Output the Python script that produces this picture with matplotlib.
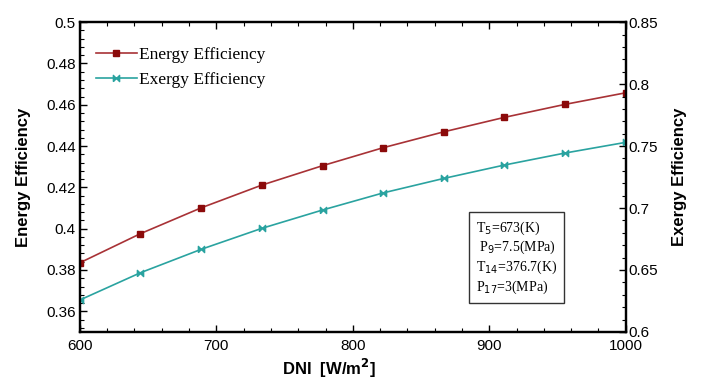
import matplotlib.pyplot as plt
from matplotlib.ticker import MultipleLocator, AutoMinorLocator, FuncFormatter

# DNI values (W/m2), 10 points
dni = [600, 644.4, 688.9, 733.3, 777.8, 822.2, 866.7, 911.1, 955.6, 1000]
energy_eff = [0.3835, 0.3976, 0.4101, 0.4211, 0.4305, 0.4392, 0.4469, 0.4539, 0.4602, 0.4658]
exergy_eff = [0.6258, 0.6478, 0.6667, 0.6836, 0.6984, 0.7122, 0.7239, 0.7347, 0.7444, 0.7530]

params = ["T$_5$=673(K)", " P$_9$=7.5(MPa)", "T$_{14}$=376.7(K)", "P$_{17}$=3(MPa)"]

red_line = '#a83236'
red_mark = '#8b0a0a'
teal = '#2aa3a0'
bowtie = [(-1, -1), (-1, 1), (0, 0), (1, 1), (1, -1), (0, 0), (-1, -1)]

fig = plt.figure(figsize=(7.07, 3.82), dpi=100)
ax = fig.add_axes([0.113, 0.131, 0.772, 0.811])
ax2 = ax.twinx()

l1, = ax.plot(dni, energy_eff, color=red_line, lw=1.2, marker='s', ms=4.5,
              mfc=red_mark, mec=red_mark, label='Energy Efficiency')
l2, = ax2.plot(dni, exergy_eff, color=teal, lw=1.2, marker=bowtie, ms=4.5,
               mfc=teal, mec=teal, label='Exergy Efficiency')

ax.set_xlim(600, 1000)
ax.set_ylim(0.35, 0.5)
ax2.set_ylim(0.6, 0.85)

fmt = FuncFormatter(lambda v, p: '%g' % round(v, 4))
ax.xaxis.set_major_locator(MultipleLocator(100))
ax.xaxis.set_minor_locator(AutoMinorLocator(5))
ax.yaxis.set_major_locator(MultipleLocator(0.02))
ax.yaxis.set_minor_locator(AutoMinorLocator(5))
ax.yaxis.set_major_formatter(fmt)
ax2.yaxis.set_major_locator(MultipleLocator(0.05))
ax2.yaxis.set_minor_locator(AutoMinorLocator(5))
ax2.yaxis.set_major_formatter(fmt)
ax.set_ylim(0.35, 0.5)

tickfont = 'Liberation Sans'
ax.tick_params(axis='x', which='both', direction='in', top=True, labelsize=11, pad=5)
ax.tick_params(axis='y', which='both', direction='in', labelsize=11, pad=3)
ax2.tick_params(axis='y', which='both', direction='in', labelsize=11, pad=2)
ax.tick_params(which='major', length=5, width=1)
ax.tick_params(which='minor', length=3, width=0.8)
ax2.tick_params(which='major', length=5, width=1)
ax2.tick_params(which='minor', length=3, width=0.8)
for lab in ax.get_xticklabels() + ax.get_yticklabels() + ax2.get_yticklabels():
    lab.set_fontfamily(tickfont)

for a in (ax, ax2):
    for s in a.spines.values():
        s.set_linewidth(1.6)

ax.set_xlabel('DNI  [W/m$^\\mathbf{2}$]', fontsize=12, fontweight='bold',
              fontfamily=tickfont, va='center')
ax.xaxis.set_label_coords(0.456, -0.118)
ax.set_ylabel('Energy Efficiency', fontsize=12, fontweight='bold',
              fontfamily=tickfont, labelpad=11)
ax2.set_ylabel('Exergy Efficiency', fontsize=12, fontweight='bold',
               fontfamily=tickfont, labelpad=10)

leg = ax.legend(handles=[l1, l2], loc='upper left', bbox_to_anchor=(0.0, 0.97),
                frameon=False, prop={'family': 'Liberation Serif', 'size': 12.5},
                handlelength=2.4, handletextpad=0.1, labelspacing=0.5)

ax.text(0.80, 0.24, '\n'.join(params), transform=ax.transAxes, ha='center', va='center',
        multialignment='left', fontsize=10, fontfamily='Liberation Serif', linespacing=1.2,
        bbox=dict(boxstyle='square,pad=0.5', fc='white', ec='#333333', lw=1))

fig.savefig('out.png', dpi=100)
